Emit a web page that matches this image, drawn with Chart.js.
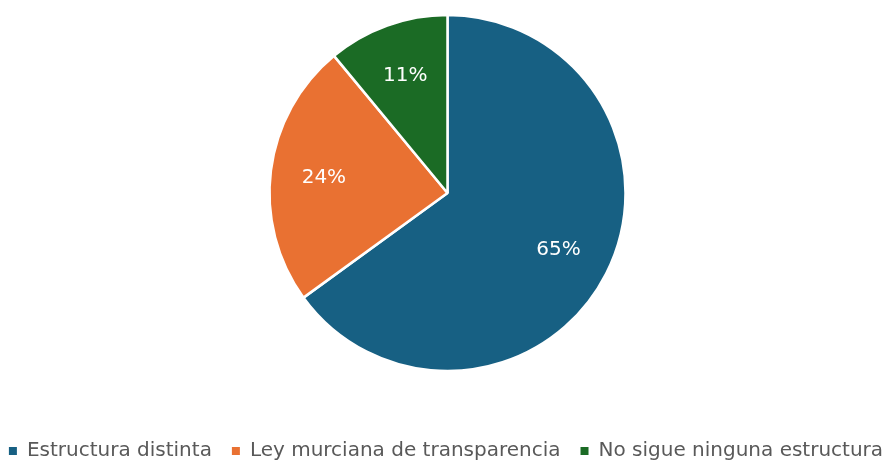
<!DOCTYPE html>
<html>
<head>
<meta charset="utf-8">
<script src="https://cdn.jsdelivr.net/npm/chart.js@4.4.1/dist/chart.umd.min.js"></script>
<style>
  html, body { margin: 0; padding: 0; background: #ffffff; }
  #wrap { width: 895px; height: 464px; position: relative; }
</style>
</head>
<body>
<div id="wrap"><canvas id="c" width="895" height="464"></canvas></div>
<script>
const categories = ['Estructura distinta', 'Ley murciana de transparencia', 'No sigue ninguna estructura'];
const values = [65, 24, 11];
const sliceColors = ['#176083', '#E97132', '#1B6B25'];

const pieLabels = {
  id: 'pieLabels',
  afterDatasetsDraw(chart) {
    const meta = chart.getDatasetMeta(0);
    const data = chart.data.datasets[0].data;
    const total = data.reduce((a, b) => a + b, 0);
    const ctx = chart.ctx;
    ctx.save();
    ctx.fillStyle = '#ffffff';
    ctx.font = '20px "DejaVu Sans"';
    ctx.textAlign = 'center';
    ctx.textBaseline = 'middle';
    meta.data.forEach((arc, i) => {
      const p = arc.getProps(['x', 'y', 'startAngle', 'endAngle', 'outerRadius'], true);
      const mid = (p.startAngle + p.endAngle) / 2;
      const r = p.outerRadius * 0.7;
      const pct = Math.round(data[i] / total * 100) + '%';
      ctx.fillText(pct, p.x + Math.cos(mid) * r, p.y + Math.sin(mid) * r);
    });
    ctx.restore();
  }
};

const defaultLabels = Chart.controllers.pie.overrides.plugins.legend.labels.generateLabels;

new Chart(document.getElementById('c'), {
  type: 'pie',
  data: {
    labels: categories,
    datasets: [{
      data: values,
      backgroundColor: sliceColors,
      borderColor: '#ffffff',
      borderWidth: 2.5
    }]
  },
  options: {
    responsive: false,
    animation: false,
    events: [],
    radius: 178,
    layout: { padding: { top: 8, bottom: -7, left: -13, right: -10 } },
    plugins: {
      tooltip: { enabled: false },
      legend: {
        position: 'bottom',
        title: { display: true, text: ' ', font: { size: 10, lineHeight: 1 }, padding: { top: 16, bottom: 17 } },
        labels: {
          boxWidth: 8,
          boxHeight: 8,
          padding: 20,
          color: '#595959',
          font: { family: '"DejaVu Sans"', size: 20 },
          generateLabels(chart) {
            return defaultLabels(chart).map(item => Object.assign(item, { lineWidth: 0, strokeStyle: 'rgba(0,0,0,0)' }));
          }
        }
      }
    }
  },
  plugins: [pieLabels]
});
</script>
</body>
</html>
